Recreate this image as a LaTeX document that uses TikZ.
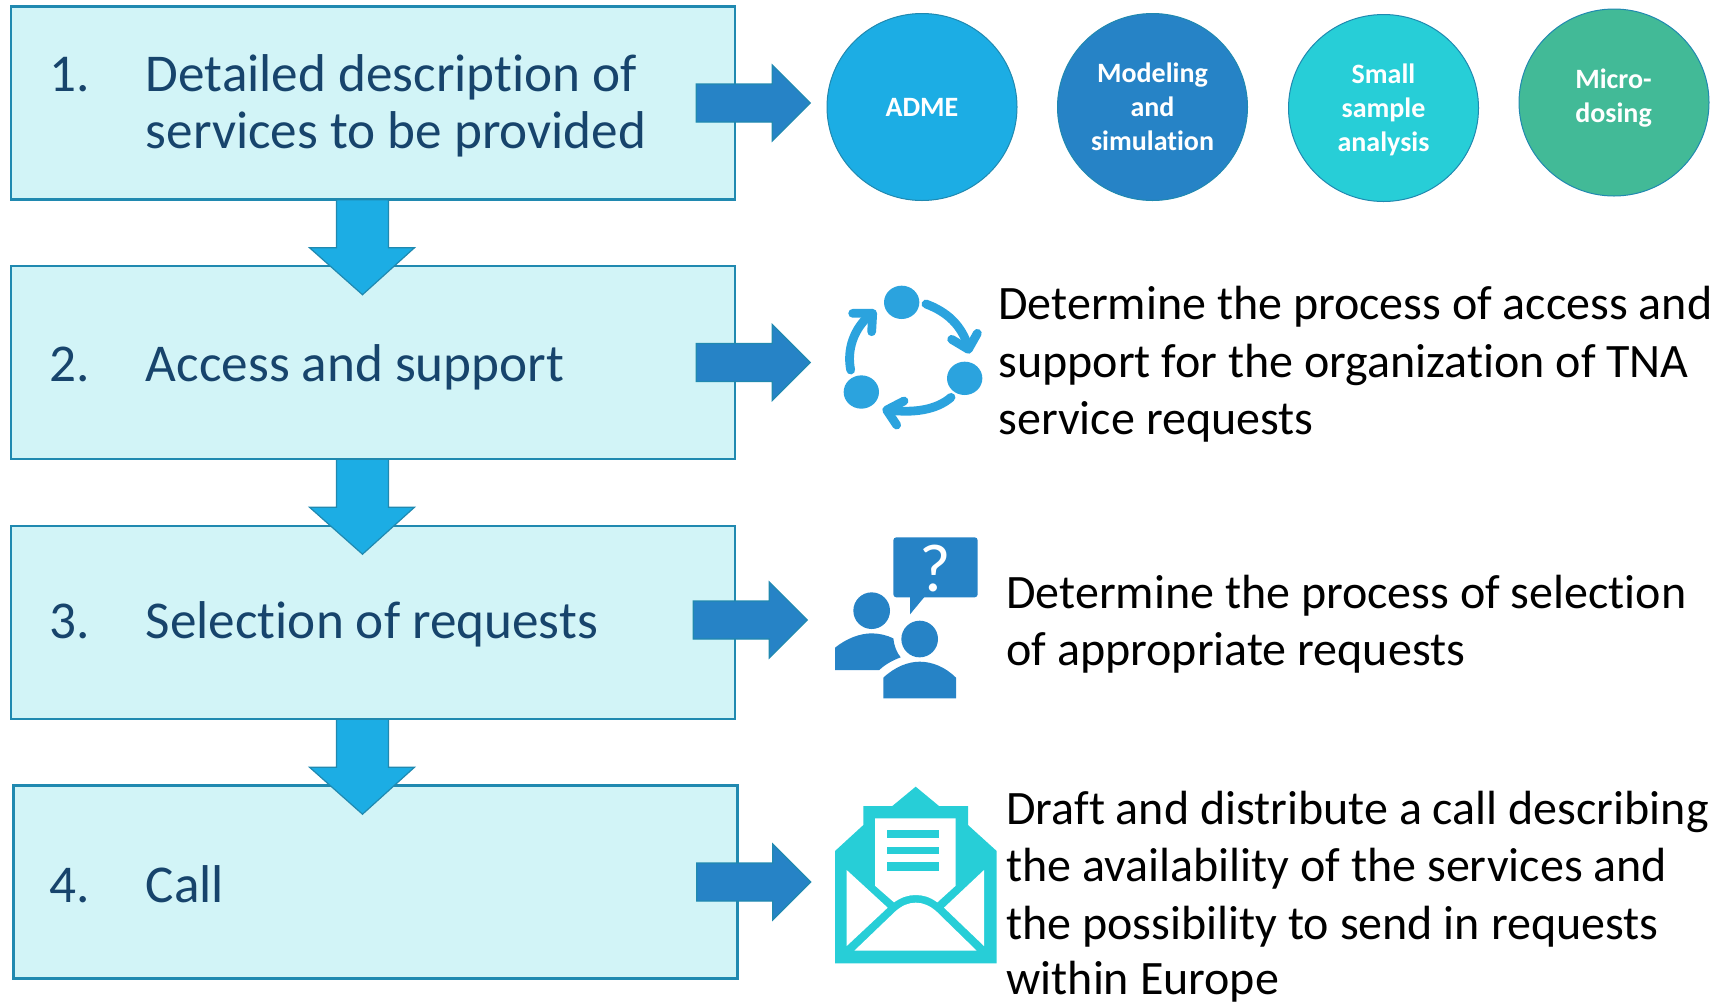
\documentclass[tikz,border=0pt]{standalone}
\usepackage{fontspec}
\setmainfont[RawFeature={-liga}]{Carlito}
\definecolor{boxfill}{HTML}{D2F4F7}
\definecolor{boxline}{HTML}{2089B0}
\definecolor{boxtext}{HTML}{17446C}
\definecolor{cblue}{HTML}{1CADE4}
\definecolor{cdark}{HTML}{2683C6}
\definecolor{cteal}{HTML}{27CED7}
\definecolor{cgreen}{HTML}{42BA97}
\definecolor{iconblue}{HTML}{2BA3DE}
\tikzset{
  stepbox/.style={draw=boxline,line width=1.2pt,fill=boxfill,inner sep=0pt,minimum width=362pt,minimum height=96.5pt},
  boxlabel/.style={anchor=base west,inner sep=0pt,text=boxtext,align=left,font=\fontsize{26.6}{30}\selectfont},
  sidelabel/.style={anchor=base west,inner sep=0pt,text=black,align=left,font=\fontsize{24}{28.7}\selectfont},
  disc/.style={draw=boxline,line width=0.5pt,ellipse,inner sep=0pt,minimum width=95pt,minimum height=93.5pt},
  disclabel/.style={inner sep=0pt,text=white,align=center,font=\fontsize{14}{17}\selectfont\bfseries},
  downblock/.style={fill=cblue,draw=boxline,line width=0.6pt,line join=miter},
  rightblock/.style={fill=cdark,draw=boxline,line width=0.6pt,line join=miter},
  icon/.style={x=0.16667pt,y=-0.16667pt},
}
\usetikzlibrary{shapes.geometric}
\newcommand{\blockdown}[1]{\begin{scope}[shift={(#1)}]
  \draw[downblock] (-36.5,-1) -- (15.5,-1) -- (15.5,47) -- (41.5,47) -- (-10.5,94) -- (-63.5,47) -- (-36.5,47) -- cycle;
\end{scope}}
\newcommand{\blockright}[3]{\begin{scope}[shift={(#1)},xshift=#2*0.5pt,yshift=-#3*0.5pt]
  \draw[rightblock] (-40,-19) -- (36,-19) -- (36,-38) -- (74,0) -- (36,38) -- (36,19) -- (-40,19) -- cycle;
\end{scope}}
\begin{document}
\begin{tikzpicture}[x=0.5pt,y=-0.5pt]
\useasboundingbox (0,0) rectangle (1729,1003);
% boxes
\node[stepbox] (box1) at (373,103) {};
\node[stepbox] (box2) at (373,362.5) {};
\node[stepbox] (box3) at (373,622.5) {};
\node[stepbox] (box4) at (375.5,882) {};
% arrows down
\blockdown{box1.south}
\blockdown{box2.south}
\blockdown{box3.south}
% arrows right
\blockright{box1.east}{0}{0}
\blockright{box2.east}{0}{0}
\blockright{box3.east}{-3}{-2.5}
\blockright{box4.east}{-2}{0}
% box text
\node[boxlabel] (n1) at (49,91) {1.};
\node[boxlabel] (t1a) at (145.5,91) {Detailed description of};
\node[boxlabel] (t1b) at (145.5,148.5) {services to be provided};
\node[boxlabel] (n2) at (49,381) {2.};
\node[boxlabel] (t2) at (145.5,381) {Access and support};
\node[boxlabel] (n3) at (49,638) {3.};
\node[boxlabel] (t3) at (145.5,638) {Selection of requests};
\node[boxlabel] (n4) at (49,902) {4.};
\node[boxlabel] (t4) at (145.5,902) {Call};
% discs
\node[disc,fill=cblue] (adme) at (922,107) {};
\node[disc,fill=cdark] (model) at (1152.5,107) {};
\node[disc,fill=cteal] (small) at (1383.5,108) {};
\node[disc,fill=cgreen] (micro) at (1614,102.5) {};
\node[disclabel] (lbl1) at (922,107) {ADME};
\node[disclabel] (lbl2) at (1152.5,107) {Modeling\\and\\simulation};
\node[disclabel] (lbl3) at (1383.5,110) {Small\\sample\\analysis};
\node[disclabel] (lbl4) at (1613.5,98) {Micro-\\dosing};
% side text
\node[sidelabel] (s2a) at (998,319) {Determine the process of access and};
\node[sidelabel] (s2b) at (998,377) {support for the organization of TNA};
\node[sidelabel] (s2c) at (998,434.5) {service requests};
\node[sidelabel] (s3a) at (1006,608) {Determine the process of selection};
\node[sidelabel] (s3b) at (1006,665) {of appropriate requests};
\node[sidelabel] (s4a) at (1006,824.5) {Draft and distribute a call describing};
\node[sidelabel] (s4b) at (1006,881.5) {the availability of the services and};
\node[sidelabel] (s4c) at (1006,939) {the possibility to send in requests};
\node[sidelabel] (s4d) at (1006,994) {within Europe};
% cycle icon
\begin{scope}[shift={(820,270)}]
\begin{scope}[icon]
  \fill[iconblue] (245,97) ellipse [x radius=53,y radius=50];
  \fill[iconblue] (434,325) ellipse [x radius=53,y radius=50];
  \fill[iconblue] (124,366) ellipse [x radius=53,y radius=50];
  \begin{scope}[draw=iconblue,line width=4.4pt,line cap=round,line join=round]
  \draw (318,102) .. controls (380,125) and (425,165) .. (445,232);
  \draw (395,208) -- (445,238) -- (472,190);
  \draw (393,382) .. controls (350,420) and (280,430) .. (205,420);
  \draw (252,393) -- (200,420) -- (230,465);
  \draw (92,300) .. controls (80,240) and (100,175) .. (155,130);
  \draw (98,130) -- (158,130) -- (155,185);
  \end{scope}
\end{scope}
\end{scope}
% people icon
\begin{scope}[shift={(820,525)}]
\begin{scope}[icon]
  \fill[cdark,rounded corners=1.5pt] (220,37) rectangle (473,217);
  \fill[cdark] (270,210) -- (270,268) -- (318,210) -- cycle;
  \node[text=white,inner sep=0pt,font=\fontsize{34}{34}\selectfont] (qmark) at (347,130) {?};
  \fill[cdark] (155,257) circle [radius=55];
  \fill[cdark] (45,435) -- (45,368) .. controls (80,340) and (120,325) .. (155,325) .. controls (175,325) and (200,330) .. (220,340) .. controls (222,362) and (230,382) .. (242,397) .. controls (220,405) and (195,418) .. (178,435) -- cycle;
  \fill[cdark] (299,342) circle [radius=55];
  \fill[cdark] (190,520) -- (190,458) .. controls (225,425) and (265,410) .. (299,410) .. controls (335,410) and (375,425) .. (408,458) -- (408,520) -- cycle;
\end{scope}
\end{scope}
% envelope icon
\begin{scope}[shift={(820,775)}]
\begin{scope}[icon]
  \fill[cteal] (45,565) -- (45,228) -- (130,150) -- (130,93) -- (217,93) -- (287,35) -- (357,93) -- (444,93) -- (444,150) -- (530,228) -- (530,565) -- cycle;
  \fill[white] (165,130) -- (407,130) -- (407,332) -- (352,382) .. controls (330,366) and (310,360) .. (287,360) .. controls (265,360) and (245,366) .. (222,382) -- (165,332) -- cycle;
  \fill[cteal] (202,165) rectangle (358,190);
  \fill[cteal] (202,215) rectangle (358,238);
  \fill[cteal] (202,262) rectangle (358,287);
  \fill[white] (80,285) -- (203,398) -- (80,513) -- cycle;
  \fill[white] (492,285) -- (372,398) -- (492,513) -- cycle;
  \fill[white] (103,527) -- (225,410) .. controls (245,392) and (265,383) .. (287,383) .. controls (310,383) and (330,392) .. (350,410) -- (470,527) -- cycle;
\end{scope}
\end{scope}
\end{tikzpicture}
\end{document}
